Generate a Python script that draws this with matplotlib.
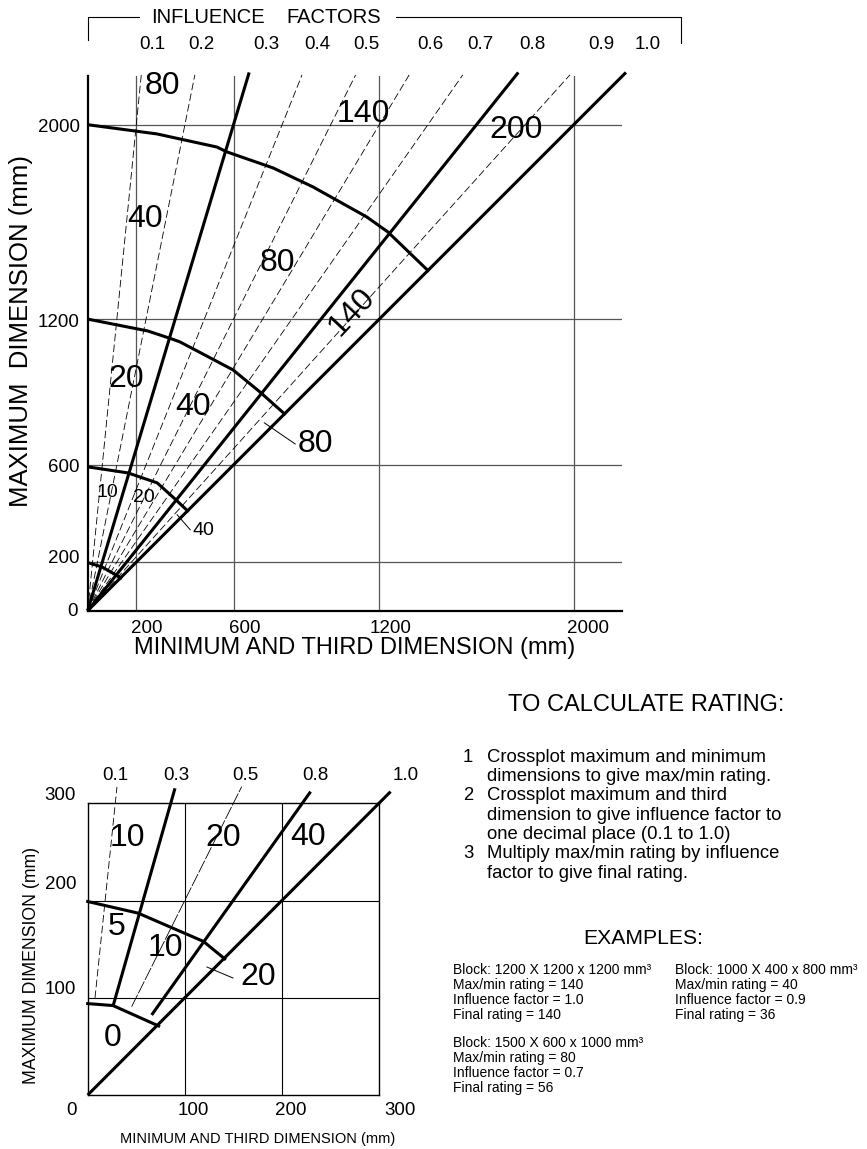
import matplotlib.pyplot as plt

plt.rcParams['font.family'] = ['Liberation Sans', 'DejaVu Sans']

W, H = 867, 1149

# ---- data: large chart (mm) ----
factors = [0.1, 0.2, 0.3, 0.4, 0.5, 0.6, 0.7, 0.8, 0.9, 1.0]
bold_factors = [0.3, 0.8, 1.0]
factor_label_x = [265, 466, 734, 944, 1145, 1409, 1614, 1828, 2112, 2306]
grid_top = [200, 600, 1200, 2000]

# max/min rating boundaries
c2000_x = [0, 285, 532, 573, 763, 927, 1149, 1236, 1400]
c2000_y = [2000, 1962, 1908, 1888, 1822, 1744, 1620, 1558, 1400]
c1200_x = [0, 248, 347, 380, 598, 709, 810]
c1200_y = [1200, 1151, 1118, 1106, 991, 900, 810]
c600_x = [0, 166, 286, 359, 411]
c600_y = [592, 567, 526, 460, 411]
c200_x = [0, 59, 136]
c200_y = [198, 180, 136]

big_labels = ['80', '140', '200', '40', '80', '20', '40', '80']
big_x = [306, 1133, 1762, 236, 779, 158, 434, 936]
big_y = [2158, 2045, 1978, 1612, 1431, 953, 838, 686]
small_labels = ['10', '20', '40']
small_x = [80, 232, 475]
small_y = [488, 464, 328]

# ---- data: small chart (mm) ----
sm_labels = ['0.1', '0.3', '0.5', '0.8', '1.0']
sm_x0 = [7.5, 26.4, 45.2, 65.8, 0]
sm_y0 = [99.8, 92.6, 90.8, 82.3, 0]
sm_x1 = [30.1, 89.8, 158.4, 229.3, 311.6]
sm_y1 = [316.8, 315.4, 317.1, 312, 312]
sm_label_x = [28, 91, 162, 234, 327]
grid_sm = [100, 200]

s200_x = [0, 52, 119, 141]
s200_y = [199, 187, 158, 140]
s90_x = [0, 26, 73]
s90_y = [94, 92, 71]

sm_rating = ['10', '20', '40', '5', '10', '20', '0']
sm_rating_x = [41, 139, 227, 30, 80, 175, 26]
sm_rating_y = [264, 264, 265, 173, 151, 121, 59]

steps = [
    ('1', 'Crossplot maximum and minimum'),
    ('', 'dimensions to give max/min rating.'),
    ('2', 'Crossplot maximum and third'),
    ('', 'dimension to give influence factor to'),
    ('', 'one decimal place (0.1 to 1.0)'),
    ('3', 'Multiply max/min rating by influence'),
    ('', 'factor to give final rating.'),
]
examples = [
    ['Block: 1200 X 1200 x 1200 mm\u00b3', 'Max/min rating = 140',
     'Influence factor = 1.0', 'Final rating = 140'],
    ['Block: 1000 X 400 x 800 mm\u00b3', 'Max/min rating = 40',
     'Influence factor = 0.9', 'Final rating = 36'],
    ['Block: 1500 X 600 x 1000 mm\u00b3', 'Max/min rating = 80',
     'Influence factor = 0.7', 'Final rating = 56'],
]


def px(x, y):
    return x / W, 1 - y / H


fig = plt.figure(figsize=(W / 100, H / 100), dpi=100)

THICK = dict(color='black', lw=2.2, solid_capstyle='butt', clip_on=False)
DASH = dict(color='black', lw=0.6, linestyle=(0, (9, 4)), clip_on=False)

# ================= large chart =================
ax = fig.add_axes([87.7 / W, 1 - 610.7 / H, 534.6 / W, 534.6 / H])
ax.set_xlim(0, 2200)
ax.set_ylim(0, 2200)
ax.set_xticks([])
ax.set_yticks([])
for s in ['top', 'right']:
    ax.spines[s].set_visible(False)
for s in ['left', 'bottom']:
    ax.spines[s].set_linewidth(1.6)

for g in grid_top:
    ax.axvline(g, color='#555555', lw=0.9, zorder=1)
    ax.axhline(g, color='#555555', lw=0.9, zorder=1)

for f in factors:
    if f in bold_factors:
        ytop = 2215
        ax.plot([0, f * ytop], [0, ytop], **THICK)
    else:
        ytop = 2205
        ax.plot([0, f * ytop], [0, ytop], **DASH)

for cx, cy in [(c2000_x, c2000_y), (c1200_x, c1200_y),
               (c600_x, c600_y), (c200_x, c200_y)]:
    ax.plot(cx, cy, color='black', lw=2.2, solid_joinstyle='miter')

for t, x, y in zip(big_labels, big_x, big_y):
    ax.text(x, y, t, fontsize=23, ha='center', va='center')
ax.text(1088, 1229, '140', fontsize=23, ha='center', va='center', rotation=47)
for t, x, y in zip(small_labels, small_x, small_y):
    ax.text(x, y, t, fontsize=14, ha='center', va='center')
ax.plot([727, 854], [773, 686], color='black', lw=0.7)
ax.plot([368, 422], [395, 333], color='black', lw=0.7)

# tick labels
for g in grid_top:
    off = 58 if g == 2000 else 45
    ax.text(g + off, -72, str(g), fontsize=13.5, ha='center', va='center')
    ax.text(-32, g - 12 if g > 200 else g + 15, str(g), fontsize=13.5,
            ha='right', va='center')
ax.text(-40, -2, '0', fontsize=13.5, ha='right', va='center')

# influence factor header
for lab, x in zip(factors, factor_label_x):
    ax.text(x, 2330, f'{lab:.1f}', fontsize=13.5, ha='center', va='center',
            clip_on=False)
ax.text(493, 2443, 'INFLUENCE', fontsize=14.5, ha='center', va='center')
ax.text(1013, 2443, 'FACTORS', fontsize=14.5, ha='center', va='center')
ax.plot([0, 0, 211], [2348, 2443, 2443], color='black', lw=0.8, clip_on=False)
ax.plot([1270, 2442, 2442], [2443, 2443, 2336], color='black', lw=0.8,
        clip_on=False)

fig.text(*px(355, 648), 'MINIMUM AND THIRD DIMENSION (mm)', fontsize=17,
         ha='center', va='center')
fig.text(*px(21, 331), 'MAXIMUM  DIMENSION (mm)', fontsize=18.5,
         ha='center', va='center', rotation=90)

# ================= small chart =================
bx = fig.add_axes([87.7 / W, 1 - 1095 / H, 291.6 / W, 291.7 / H])
bx.set_xlim(0, 300)
bx.set_ylim(0, 300)
bx.set_xticks([])
bx.set_yticks([])
for s in bx.spines.values():
    s.set_linewidth(1.0)
for g in grid_sm:
    bx.axvline(g, color='black', lw=0.8, zorder=1)
    bx.axhline(g, color='black', lw=0.8, zorder=1)

for lab, x0, y0, x1, y1 in zip(sm_labels, sm_x0, sm_y0, sm_x1, sm_y1):
    if lab in ('0.3', '0.8', '1.0'):
        bx.plot([x0, x1], [y0, y1], **THICK)
    elif lab == '0.1':
        bx.plot([x0, x1], [y0, y1], **DASH)
    else:
        bx.plot([x0, x1], [y0, y1], color='black', lw=0.6,
                linestyle=(0, (16, 2)), clip_on=False)
for lab, x in zip(sm_labels, sm_label_x):
    bx.text(x, 329, lab, fontsize=13.5, ha='center', va='center')

bx.plot(s200_x, s200_y, color='black', lw=2.2, clip_on=False)
bx.plot(s90_x, s90_y, color='black', lw=2.2, clip_on=False)
for t, x, y in zip(sm_rating, sm_rating_x, sm_rating_y):
    bx.text(x, y, t, fontsize=23, ha='center', va='center')
bx.plot([122.7, 149.5], [131.6, 120.3], color='black', lw=0.7)

for g, xo in zip([100, 200, 300], [108.5, 209, 321]):
    bx.text(xo, -15.5, str(g), fontsize=13.5, ha='center', va='center')
bx.text(-17, -15.5, '0', fontsize=13.5, ha='center', va='center')
for g, yo in zip([100, 200, 300], [108, 216, 308]):
    bx.text(-12, yo, str(g), fontsize=13.5, ha='right', va='center')

fig.text(*px(258, 1139), 'MINIMUM AND THIRD DIMENSION (mm)', fontsize=10.5,
         ha='center', va='center')
fig.text(*px(32, 965), 'MAXIMUM DIMENSION (mm)', fontsize=12.7,
         ha='center', va='center', rotation=90)

# ================= instructions =================
fig.text(*px(646, 705), 'TO CALCULATE RATING:', fontsize=17,
         ha='center', va='center')
for i, (num, line) in enumerate(steps):
    y = 757 + i * 19.4
    if num:
        fig.text(*px(468, y), num, fontsize=13.3, ha='center', va='center')
    fig.text(*px(487, y), line, fontsize=13.3, ha='left', va='center')

fig.text(*px(643, 938), 'EXAMPLES:', fontsize=15.2, ha='center', va='center')
for (x0, y0), block in zip([(453, 970), (675, 970), (453, 1043)], examples):
    for j, line in enumerate(block):
        fig.text(*px(x0, y0 + j * 15), line, fontsize=10,
                 ha='left', va='center')

fig.savefig('out.png', dpi=100)
